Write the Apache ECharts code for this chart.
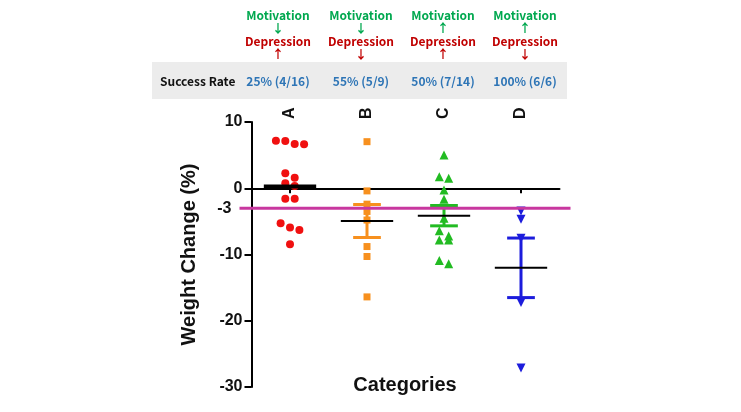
<!DOCTYPE html>
<html>
<head>
<meta charset="utf-8">
<script src="https://cdn.jsdelivr.net/npm/echarts@6/dist/echarts.min.js"></script>
<style>
html,body{margin:0;padding:0;background:#fff;}
#main{width:741px;height:412px;}
</style>
</head>
<body>
<div id="main"></div>
<script>
// data
var categories = ['A', 'B', 'C', 'D'];
var successRates = ['25% (4/16)', '55% (5/9)', '50% (7/14)', '100% (6/6)'];
var motivationArrows = ['↓', '↓', '↑', '↑'];
var depressionArrows = ['↑', '↓', '↑', '↓'];
var groupA = [7.18, 6.68, 6.63, 7.13, 2.26, 1.6, 0.75, 0.35, -1.6, -1.57, -5.28, -5.94, -6.29, -8.45];
var groupB = [7.03, -0.4, -2.4, -3.5, -4.8, -8.8, -10.3, -16.4];
var groupC = [5.02, 1.75, 1.5, -0.26, -1.66, -4.52, -6.4, -7.2, -7.8, -7.8, -11.4, -10.9];
var groupD = [-3.42, -4.68, -7.55, -17.25, -27.15];
var showErrorBar = [false, true, true, true];
var yTicks = [-30, 10, 10]; // min, max, interval
var thresholdLine = -3;

var groups = [groupA, groupB, groupC, groupD];
var colors = ['#f01010', '#f7901e', '#22bb22', '#1c1cdc'];
var symbols = ['circle', 'rect', 'triangle', 'triangle'];
var symbolRot = [0, 0, 0, 180];
var symbolSizes = [8, 7, 9, 9];

// GraphPad-like column scatter: points close in value are spread sideways
function swarm(vals) {
    var idx = vals.map(function (v, i) { return i; });
    idx.sort(function (a, b) { return vals[b] - vals[a]; });
    var out = new Array(vals.length);
    var cluster = [];
    function flush() {
        var n = cluster.length;
        cluster.forEach(function (k, j) { out[k] = (j - (n - 1) / 2) * 0.122; });
        cluster = [];
    }
    idx.forEach(function (k) {
        if (cluster.length && vals[cluster[0]] - vals[k] > 1.05) flush();
        cluster.push(k);
    });
    flush();
    return out;
}

function mean(a) { return a.reduce(function (s, v) { return s + v; }, 0) / a.length; }
function sem(a) {
    var m = mean(a);
    var ss = a.reduce(function (s, v) { return s + (v - m) * (v - m); }, 0);
    return Math.sqrt(ss / (a.length - 1)) / Math.sqrt(a.length);
}

var myChart = echarts.init(document.getElementById('main'));

var series = [];
groups.forEach(function (g, i) {
    var off = swarm(g);
    series.push({
        type: 'scatter',
        xAxisIndex: 0,
        symbol: symbols[i],
        symbolRotate: symbolRot[i],
        symbolSize: symbolSizes[i],
        itemStyle: { color: colors[i], opacity: 1 },
        animation: false,
        data: g.map(function (v, k) { return [i + off[k], v]; })
    });
});

// mean line + SEM bars
series.push({
    type: 'custom',
    xAxisIndex: 0,
    z: 5,
    animation: false,
    data: groups.map(function (g, i) { return [i, mean(g), sem(g)]; }),
    renderItem: function (params, api) {
        var i = api.value(0), m = api.value(1), s = api.value(2);
        var c = api.coord([i, m]);
        var ch = [];
        if (showErrorBar[i]) {
            var t = api.coord([i, m + s]), b = api.coord([i, m - s]);
            var l = api.coord([i - 0.18, m])[0], r = api.coord([i + 0.18, m])[0];
            var st = { stroke: colors[i], lineWidth: 3 };
            ch.push({ type: 'line', shape: { x1: c[0], y1: t[1], x2: c[0], y2: b[1] }, style: st });
            ch.push({ type: 'line', shape: { x1: l, y1: t[1], x2: r, y2: t[1] }, style: st });
            ch.push({ type: 'line', shape: { x1: l, y1: b[1], x2: r, y2: b[1] }, style: st });
        }
        var ml = api.coord([i - 0.34, m])[0], mr = api.coord([i + 0.34, m])[0];
        ch.push({ type: 'line', shape: { x1: ml, y1: c[1], x2: mr, y2: c[1] },
            style: { stroke: '#000', lineWidth: showErrorBar[i] ? 2 : 4 } });
        return { type: 'group', children: ch };
    }
});

// -3 reference line
series.push({
    type: 'custom',
    xAxisIndex: 0,
    z: 6,
    clip: false,
    animation: false,
    data: [[0, thresholdLine]],
    renderItem: function (params, api) {
        var cs = params.coordSys;
        var y = api.coord([0, api.value(1)])[1];
        return {
            type: 'group',
            children: [
                { type: 'line', shape: { x1: cs.x - 12, y1: y, x2: cs.x + cs.width + 11, y2: y },
                  style: { stroke: '#c8379f', lineWidth: 3 } },
                { type: 'text', style: { text: String(api.value(1)), x: cs.x - 20, y: y,
                  align: 'right', verticalAlign: 'middle',
                  font: 'bold 16px "Liberation Sans", Arial', fill: '#111' } }
            ]
        };
    }
});

// table above the chart
var graphic = [
    { type: 'rect', shape: { x: 152, y: 62, width: 415, height: 37 }, style: { fill: '#ececec' } },
    { type: 'text', style: { text: 'Success Rate', x: 160, y: 81, align: 'left', verticalAlign: 'middle',
      font: 'bold 12px "Noto Sans CJK KR"', fill: '#111' } },
    { type: 'text', style: { text: 'Categories', x: 405, y: 385, align: 'center', verticalAlign: 'middle',
      font: 'bold 20px "Liberation Sans", Arial', fill: '#111' } }
];
var colX = [278, 361, 443, 525];
categories.forEach(function (c, i) {
    var rows = [
        ['Motivation', 15, '#00a84f'],
        [motivationArrows[i], 28, '#00a84f'],
        ['Depression', 41, '#c00000'],
        [depressionArrows[i], 54, '#c00000'],
        [successRates[i], 81, '#2e75b6']
    ];
    rows.forEach(function (r) {
        graphic.push({ type: 'text', style: { text: r[0], x: colX[i], y: r[1], align: 'center',
            verticalAlign: 'middle', font: 'bold 12px "Noto Sans CJK KR"', fill: r[2] } });
    });
});

myChart.setOption({
    animation: false,
    graphic: graphic,
    grid: { left: 251.5, right: 181.5, top: 122, bottom: 25 },
    xAxis: [
        {
            type: 'value', min: -0.5, max: 3.5, position: 'bottom',
            axisLine: { show: true, onZero: true, lineStyle: { color: '#000', width: 2 } },
            axisTick: { show: true, customValues: [0, 1, 2, 3], length: 5, lineStyle: { color: '#000', width: 2 } },
            axisLabel: { show: false },
            splitLine: { show: false }
        },
        {
            type: 'category', data: categories, position: 'top',
            axisLine: { show: false },
            axisTick: { show: false },
            axisLabel: { rotate: -90, margin: 3, color: '#111', fontSize: 16, fontWeight: 'bold',
                fontFamily: '"Liberation Sans", Arial' }
        }
    ],
    yAxis: {
        type: 'value',
        min: yTicks[0], max: yTicks[1], interval: yTicks[2],
        name: 'Weight Change (%)',
        nameLocation: 'middle',
        nameGap: 52,
        nameTextStyle: { color: '#111', fontSize: 20, fontWeight: 'bold', fontFamily: '"Liberation Sans", Arial' },
        axisLine: { show: true, onZero: false, lineStyle: { color: '#000', width: 2 } },
        axisTick: { show: true, length: 7, lineStyle: { color: '#000', width: 2 } },
        axisLabel: { color: '#111', fontSize: 16, fontWeight: 'bold', margin: 9,
            fontFamily: '"Liberation Sans", Arial' },
        splitLine: { show: false }
    },
    series: series
});
</script>
</body>
</html>
